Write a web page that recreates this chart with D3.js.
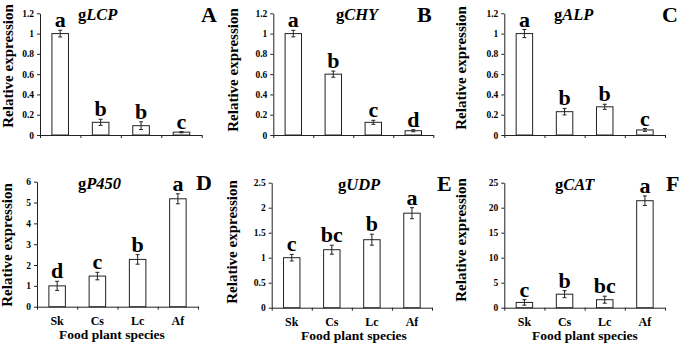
<!DOCTYPE html>
<html>
<head>
<meta charset="utf-8">
<script src="https://cdn.jsdelivr.net/npm/d3@7"></script>
<style>
  body { margin: 0; background: #fff; }
  svg text { font-family: "Liberation Serif", "Times New Roman", serif; font-weight: bold; fill: #000; }
  .axis path, .axis line { stroke: #222; }
</style>
</head>
<body>
<div class="chart"></div>
<script>
const species = ["Sk", "Cs", "Lc", "Af"];

const lcpValues = [1.0, 0.125, 0.092, 0.028];
const lcpErrors = [0.033, 0.03, 0.038, 0.006];
const lcpLetters = ["a", "b", "b", "c"];

const chyValues = [1.0, 0.60, 0.125, 0.042];
const chyErrors = [0.032, 0.03, 0.02, 0.01];
const chyLetters = ["a", "b", "c", "d"];

const alpValues = [1.0, 0.23, 0.278, 0.05];
const alpErrors = [0.04, 0.032, 0.025, 0.014];
const alpLetters = ["a", "b", "b", "c"];

const p450Values = [1.0, 1.47, 2.27, 5.18];
const p450Errors = [0.22, 0.18, 0.23, 0.24];
const p450Letters = ["d", "c", "b", "a"];

const udpValues = [1.0, 1.16, 1.36, 1.89];
const udpErrors = [0.065, 0.09, 0.11, 0.11];
const udpLetters = ["c", "bc", "b", "a"];

const catValues = [1.05, 2.7, 1.6, 21.4];
const catErrors = [0.55, 0.7, 0.7, 0.95];
const catLetters = ["c", "b", "bc", "a"];

const ticksSmall = [0, 0.2, 0.4, 0.6, 0.8, 1, 1.2];
const ticksP450 = [0, 1, 2, 3, 4, 5, 6];
const ticksUdp = [0, 0.5, 1, 1.5, 2, 2.5];
const ticksCat = [0, 5, 10, 15, 20, 25];

const yTitle = "Relative expression";
const xTitle = "Food plant species";

const panels = [
  {id: "A", gene: "LCP", values: lcpValues, errors: lcpErrors, letters: lcpLetters, ticks: ticksSmall,
   x0: 40, x1: 201.7, y0: 13.3, y1: 135, titleX: 78, idX: 201, yTitleX: 12.5, yTitleY: 66, bottom: false},
  {id: "B", gene: "CHY", values: chyValues, errors: chyErrors, letters: chyLetters, ticks: ticksSmall,
   x0: 273.3, x1: 433.3, y0: 13.3, y1: 135, titleX: 336, idX: 417, yTitleX: 237.5, yTitleY: 70, bottom: false},
  {id: "C", gene: "ALP", values: alpValues, errors: alpErrors, letters: alpLetters, ticks: ticksSmall,
   x0: 504.3, x1: 665, y0: 13.3, y1: 135, titleX: 554, idX: 662, yTitleX: 466, yTitleY: 68, bottom: false},
  {id: "D", gene: "P450", values: p450Values, errors: p450Errors, letters: p450Letters, ticks: ticksP450,
   x0: 37, x1: 198, y0: 181.7, y1: 306.7, titleX: 78, idX: 196, yTitleX: 12, yTitleY: 245, bottom: true, xTitleX: 112},
  {id: "E", gene: "UDP", values: udpValues, errors: udpErrors, letters: udpLetters, ticks: ticksUdp,
   x0: 271.7, x1: 432, y0: 182.7, y1: 307.7, titleX: 338, idX: 437, yTitleX: 237, yTitleY: 242, bottom: true, xTitleX: 354},
  {id: "F", gene: "CAT", values: catValues, errors: catErrors, letters: catLetters, ticks: ticksCat,
   x0: 504.3, x1: 665, y0: 182.7, y1: 307.7, titleX: 555, idX: 666, yTitleX: 466, yTitleY: 240, bottom: true, xTitleX: 585}
];

const width = 685, height = 347;
const svg = d3.select(".chart").append("svg")
  .attr("width", width).attr("height", height);

panels.forEach(p => {
  const g = svg.append("g");
  const yMax = p.ticks[p.ticks.length - 1];

  const x = d3.scaleBand().domain(species).range([p.x0, p.x1]).padding(0);
  const xEdges = d3.scaleLinear().domain([0, species.length]).range([p.x0, p.x1]);
  const y = d3.scaleLinear().domain([0, yMax]).range([p.y1, p.y0]);
  const barW = x.bandwidth() * 0.41;

  // y axis
  g.append("g").attr("class", "axis")
    .attr("transform", `translate(${p.x0},0)`)
    .call(d3.axisLeft(y).tickValues(p.ticks).tickSize(3).tickSizeOuter(0).tickPadding(3).tickFormat(d3.format("")))
    .attr("font-family", null)
    .call(a => a.selectAll("text").style("font-size", "9.5px"));

  // x axis, ticks at group boundaries
  g.append("g").attr("class", "axis")
    .attr("transform", `translate(0,${p.y1})`)
    .call(d3.axisBottom(xEdges).tickValues(d3.range(species.length + 1)).tickSize(3).tickSizeOuter(0).tickFormat(""));

  // bars
  g.selectAll("rect.bar").data(species).join("rect")
    .attr("class", "bar")
    .attr("x", d => x(d) + (x.bandwidth() - barW) / 2)
    .attr("y", (d, i) => y(p.values[i]))
    .attr("width", barW)
    .attr("height", (d, i) => y(0) - y(p.values[i]))
    .attr("fill", "#fff").attr("stroke", "#222").attr("stroke-width", 1);

  // error bars
  const cx = d => x(d) + x.bandwidth() / 2;
  const err = g.selectAll("g.err").data(species).join("g").attr("class", "err")
    .attr("stroke", "#222").attr("stroke-width", 1);
  err.append("line")
    .attr("x1", cx).attr("x2", cx)
    .attr("y1", (d, i) => y(p.values[i] + p.errors[i]))
    .attr("y2", (d, i) => y(p.values[i] - p.errors[i]));
  err.append("line")
    .attr("x1", d => cx(d) - 2).attr("x2", d => cx(d) + 2)
    .attr("y1", (d, i) => y(p.values[i] + p.errors[i]))
    .attr("y2", (d, i) => y(p.values[i] + p.errors[i]));
  err.append("line")
    .attr("x1", d => cx(d) - 2).attr("x2", d => cx(d) + 2)
    .attr("y1", (d, i) => y(p.values[i] - p.errors[i]))
    .attr("y2", (d, i) => y(p.values[i] - p.errors[i]));

  // significance letters
  g.selectAll("text.sig").data(species).join("text")
    .attr("class", "sig")
    .attr("x", cx)
    .attr("y", (d, i) => y(p.values[i] + p.errors[i]) - 3)
    .attr("text-anchor", "middle")
    .style("font-size", "22px")
    .text((d, i) => p.letters[i]);

  // gene title
  const t = g.append("text")
    .attr("x", p.titleX).attr("y", p.y0 + 7)
    .style("font-size", "16.5px");
  t.append("tspan").text("g");
  t.append("tspan").style("font-style", "italic").text(p.gene);

  // panel letter
  g.append("text")
    .attr("x", p.idX).attr("y", p.y0 + 8.5)
    .style("font-size", "22px")
    .text(p.id);

  // y title
  g.append("text")
    .attr("transform", `translate(${p.yTitleX},${p.yTitleY}) rotate(-90)`)
    .attr("text-anchor", "middle")
    .style("font-size", "15px")
    .text(yTitle);

  if (p.bottom) {
    g.selectAll("text.cat").data(species).join("text")
      .attr("class", "cat")
      .attr("x", cx)
      .attr("y", p.y1 + 18.5)
      .attr("text-anchor", "middle")
      .style("font-size", "12px")
      .text(d => d);

    g.append("text")
      .attr("x", p.xTitleX).attr("y", p.y1 + 32.5)
      .attr("text-anchor", "middle")
      .style("font-size", "13.5px")
      .text(xTitle);
  }
});
</script>
</body>
</html>
